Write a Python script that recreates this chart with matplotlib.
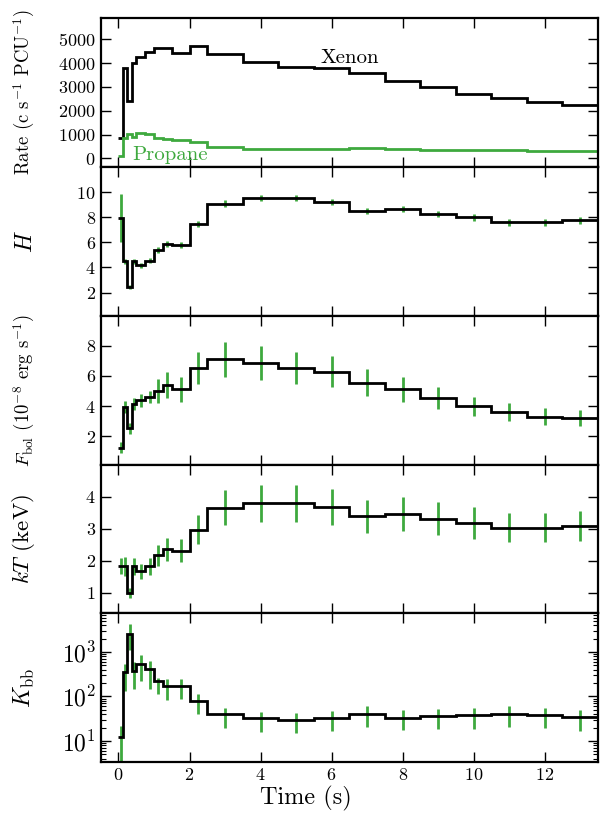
import numpy as np
import matplotlib
matplotlib.use('Agg')
import matplotlib.pyplot as plt
from matplotlib.ticker import LogLocator, NullFormatter

plt.rcParams['font.family'] = 'serif'
plt.rcParams['font.serif'] = ['cmr10']
plt.rcParams['mathtext.fontset'] = 'cm'
plt.rcParams['axes.formatter.use_mathtext'] = True
plt.rcParams['axes.unicode_minus'] = False

# Time bins (s)
# -------------
edges = [0, 0.125, 0.25, 0.375, 0.5, 0.75, 1.0, 1.25, 1.5, 2.0, 2.5, 3.5, 4.5,
         5.5, 6.5, 7.5, 8.5, 9.5, 10.5, 11.5, 12.5, 13.5]

# Count rates
xenon = [845, 3790, 2410, 4020, 4260, 4460, 4620, 4620, 4440, 4730, 4360, 4060,
         3850, 3790, 3590, 3260, 2990, 2690, 2550, 2350, 2230]
propane = [107, 845, 1005, 910, 1045, 1005, 870, 805, 765, 670, 480, 415, 390,
           400, 440, 375, 360, 335, 335, 310, 295]

# Hardness
hard = [7.93, 4.49, 2.42, 4.49, 4.17, 4.54, 5.38, 5.86, 5.78, 7.45, 9.09, 9.54,
        9.52, 9.22, 8.47, 8.68, 8.25, 7.98, 7.58, 7.58, 7.74]
hard_err = [1.92, 0.2, 0.15, 0.2, 0.2, 0.2, 0.25, 0.25, 0.25, 0.25, 0.25, 0.25,
            0.25, 0.25, 0.25, 0.25, 0.25, 0.25, 0.25, 0.25, 0.25]

# Bolometric flux
fbol = [1.24, 3.93, 2.52, 4.13, 4.38, 4.6, 5.02, 5.38, 5.11, 6.55, 7.1, 6.88,
        6.55, 6.28, 5.56, 5.11, 4.53, 3.97, 3.59, 3.3, 3.19]
fbol_err = [0.35, 0.38, 0.38, 0.4, 0.45, 0.4, 0.8, 0.87, 0.82, 1.06, 1.17, 1.14,
            1.06, 1.03, 0.9, 0.83, 0.74, 0.66, 0.6, 0.55, 0.53]

# Temperature
kt = [1.82, 1.82, 0.99, 1.82, 1.67, 1.82, 2.17, 2.35, 2.31, 2.97, 3.65, 3.79,
      3.79, 3.68, 3.39, 3.46, 3.31, 3.18, 3.03, 3.03, 3.08]
kt_err = [0.25, 0.29, 0.15, 0.26, 0.24, 0.26, 0.33, 0.36, 0.36, 0.45, 0.55, 0.58,
          0.58, 0.57, 0.52, 0.53, 0.51, 0.49, 0.46, 0.46, 0.46]

# Blackbody normalisation
kbb = [12, 355, 2580, 373, 547, 408, 223, 172, 172, 81, 40, 32, 30, 32, 41, 33,
       36, 38, 41, 38, 34]
kbb_lo = [1, 132, 1090, 145, 218, 151, 115, 85, 89, 41, 20, 16, 15.4, 16.6, 20.6,
          17.4, 18.3, 18.6, 20.6, 19.2, 17]
kbb_hi = [22, 550, 4360, 600, 850, 617, 263, 244, 251, 115, 56, 45, 43, 47, 60,
          49, 53, 54, 60, 56, 50]

ylabels = ['Rate (c s$^{-1}$ PCU$^{-1}$)', '$H$',
           '$F_{\\rm bol}$ ($10^{-8}$ erg s$^{-1}$)', '$kT$ (keV)', '$K_{\\rm bb}$']
ylabel_sizes = [13.5, 17, 13.5, 16.5, 17]

green = '#3ea93e'
lw = 2.0

edges = np.array(edges)
centers = 0.5 * (edges[:-1] + edges[1:])

fig, axes = plt.subplots(5, 1, figsize=(6.01, 8.25), dpi=100, sharex=True)
fig.subplots_adjust(left=0.1676, right=0.995, top=0.978, bottom=0.076, hspace=0)

# Rate
ax = axes[0]
ax.stairs(xenon, edges, baseline=None, color='k', lw=lw)
ax.stairs(propane, edges, baseline=None, color=green, lw=lw)
ax.text(5.7, 4000, 'Xenon', fontsize=15, va='baseline', ha='left')
ax.text(0.4, -60, 'Propane', fontsize=15, va='baseline', ha='left', color=green)
ax.set_ylim(-360, 5885)
ax.set_yticks([0, 1000, 2000, 3000, 4000, 5000])

# Hardness, flux, temperature
for ax, vals, errs, ylim, yt in zip(axes[1:4], [hard, fbol, kt],
                                    [hard_err, fbol_err, kt_err],
                                    [(0.15, 12), (0.1, 10), (0.35, 5)],
                                    [[2, 4, 6, 8, 10], [2, 4, 6, 8], [1, 2, 3, 4]]):
	ax.errorbar(centers, vals, yerr=errs, fmt='none', ecolor=green, elinewidth=2, capsize=0)
	ax.stairs(vals, edges, baseline=None, color='k', lw=lw, zorder=3)
	ax.set_ylim(*ylim)
	ax.set_yticks(yt)

# Kbb
ax = axes[4]
ax.vlines(centers, kbb_lo, kbb_hi, color=green, lw=2)
ax.stairs(kbb, edges, baseline=None, color='k', lw=lw, zorder=3)
ax.set_yscale('log')
ax.set_ylim(3.3, 7400)
ax.yaxis.set_major_locator(LogLocator(base=10, numticks=10))
ax.yaxis.set_minor_locator(LogLocator(base=10, subs=np.arange(2, 10), numticks=10))
ax.yaxis.set_minor_formatter(NullFormatter())

for ax, lab, fs in zip(axes, ylabels, ylabel_sizes):
	ax.set_xlim(-0.5, 13.5)
	ax.set_xticks(np.arange(0, 14, 2))
	ax.tick_params(which='major', direction='in', length=7, width=1, top=True, right=True, labelsize=13)
	ax.tick_params(which='minor', direction='in', length=3.5, width=0.8, top=True, right=True)
	for sp in ax.spines.values():
		sp.set_linewidth(1.6)
	ax.set_ylabel(lab, fontsize=fs)
	ax.yaxis.set_label_coords(-0.128, 0.5)

axes[-1].tick_params(axis='y', which='major', labelsize=17)
axes[-1].set_xlabel('Time (s)', fontsize=17.5)
axes[-1].xaxis.set_label_coords(0.413, -0.16)

plt.savefig('out.png', dpi=100, facecolor='w')
